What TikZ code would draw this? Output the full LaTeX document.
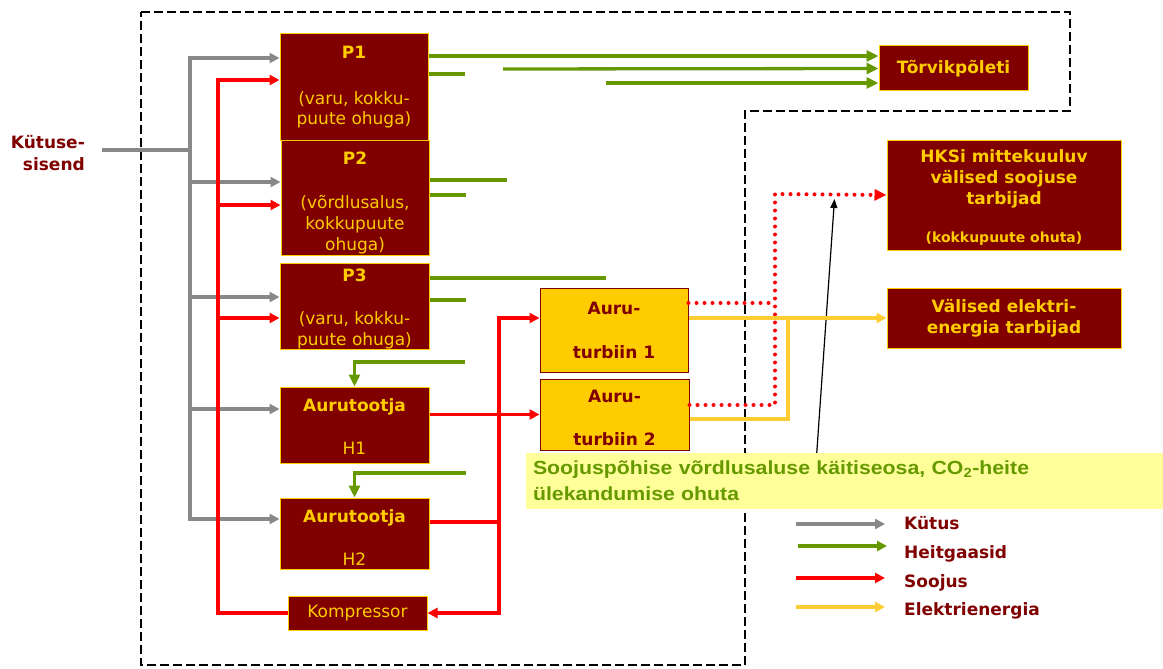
\documentclass[tikz,border=0pt]{standalone}
\usepackage{fontspec}
\setmainfont{DejaVu Sans}
\newfontfamily\notefont{Liberation Sans}[FakeStretch=1.12]
\usetikzlibrary{arrows.meta}

\definecolor{boxred}{RGB}{128,0,0}
\definecolor{boxgold}{RGB}{255,204,0}
\definecolor{fuelgray}{RGB}{136,136,136}
\definecolor{gasgreen}{RGB}{102,153,0}
\definecolor{heatred}{RGB}{255,0,0}
\definecolor{powergold}{RGB}{255,204,51}
\definecolor{notefill}{RGB}{255,255,153}

\begin{document}
\begin{tikzpicture}[x=1pt,y=-1pt,
  plant/.style={draw=boxgold, line width=1pt, fill=boxred, text=boxgold,
    inner sep=0pt, align=center, font=\fontsize{17}{20}\selectfont},
  turbine/.style={draw=boxred, line width=1pt, fill=boxgold, text=boxred,
    inner sep=0pt, align=center, font=\bfseries\fontsize{17}{20}\selectfont},
  consumer/.style={plant, font=\bfseries\fontsize{17}{21}\selectfont},
  legendtext/.style={text=boxred, inner sep=0pt, anchor=base west,
    font=\bfseries\fontsize{17}{20}\selectfont},
  fuel/.style={draw=fuelgray, line width=3.3pt},
  gas/.style={draw=gasgreen, line width=3.3pt},
  heat/.style={draw=heatred, line width=3.3pt},
  heatdots/.style={draw=heatred, line width=4pt, line cap=round,
    dash pattern=on 0pt off 8pt},
  power/.style={draw=powergold, line width=3.3pt},
  arr/.style={-{Triangle[length=10pt,width=10pt]}},
  bigarr/.style={-{Triangle[length=12pt,width=11pt]}},
  boundary/.style={draw=black, line width=2.8pt, dash pattern=on 9pt off 4pt},
]
\useasboundingbox (0,0) rectangle (1163,669);

% system boundary
\draw[boundary] (141,12) -- (1070,12) -- (1070,111) -- (745,111)
  -- (745,665) -- (141,665) -- cycle;

% pointer from the note to the heat consumers' line
\coordinate (ptrfoot) at (816.6,455);
\coordinate (ptrhead) at (834.5,199);
\draw[line width=1.2pt, -{Triangle[length=9pt,width=7pt]}] (ptrfoot) -- (ptrhead);

% plants and steam generators
\node[plant, minimum width=148pt, minimum height=106pt] (p1) at (354,87)
  {\textbf{P1}\\[26pt](varu, kokku-\\puute ohuga)};
\node[plant, font=\fontsize{17}{21}\selectfont, minimum width=148pt, minimum height=115pt] (p2) at (355,197.5)
  {\rule{0pt}{24.5pt}\textbf{P2}\\[23pt](võrdlusalus,\\kokkupuute\\ohuga)};
\node[plant, font=\fontsize{17}{21}\selectfont, minimum width=149pt, minimum height=85pt] (p3) at (354.5,306.5)
  {\rule{0pt}{18.5pt}\textbf{P3}\\[22pt](varu, kokku-\\puute ohuga)};
\node[plant, minimum width=149pt, minimum height=76pt] (h1) at (354.5,425)
  {\rule{0pt}{15pt}\textbf{Aurutootja}\\[23pt]H1};
\node[plant, minimum width=149pt, minimum height=71pt] (h2) at (354.5,533.5)
  {\rule{0pt}{20pt}\textbf{Aurutootja}\\[23pt]H2};
\node[plant, minimum width=139pt, minimum height=34pt] (komp) at (357.5,613) {Kompressor};

% turbines
\node[turbine, minimum width=148pt, minimum height=84pt] (t1) at (614,330)
  {Auru-\\[24pt]turbiin 1};
\node[turbine, minimum width=149pt, minimum height=71pt] (t2) at (614.5,414.5)
  {\rule{0pt}{20pt}Auru-\\[23pt]turbiin 2};

% consumers
\node[plant, font=\bfseries\fontsize{17}{20}\selectfont, minimum width=149pt, minimum height=45pt]
  (torv) at (953.5,68.5) {Tõrvikpõleti};
\node[consumer, minimum width=234pt, minimum height=110pt] (hks) at (1004,195)
  {\rule{0pt}{18.7pt}HKSi mittekuuluv\\välised soojuse\\tarbijad\\[17pt]{\fontsize{14}{16}\selectfont (kokkupuute ohuta)}};
\node[consumer, minimum width=234pt, minimum height=60pt] (val) at (1004,318)
  {Välised elektri-\\energia tarbijad};

% fuel input
\node[text=boxred, inner sep=0pt, align=right, anchor=east,
  font=\bfseries\fontsize{17}{22}\selectfont] (kin) at (85,153.5) {Kütuse-\\sisend};

% fuel lines
\coordinate (kst) at (102,150);
\coordinate (fbus) at (190,150);
\draw[fuel] (kst) -- (fbus);
\draw[fuel,arr] (190,519) -- (190,58) -- (p1.west |- 0,58);
\draw[fuel,arr] (190,58) -- (190,519) -- (h2.west |- 0,519);
\foreach \n/\y in {p2/182,p3/297,h1/409}
  \draw[fuel,arr] (190,\y) -- (\n.west |- 0,\y);

% heat lines
\draw[heat,arr] (komp.west) -- (218,613) -- (218,80) -- (p1.west |- 0,80);
\foreach \n/\y in {p2/205,p3/318}
  \draw[heat,arr] (218,\y) -- (\n.west |- 0,\y);
\draw[heat,arr] (h1.east |- t2.west) -- (t2.west);
\draw[heat] (h2.east |- 0,522) -- (499,522);
\draw[heat,arr] (499,613) -- (499,318) -- (t1.west |- 0,318);
\draw[heat,arr] (499,318) -- (499,613) -- (komp.east);

% heat to outside consumers
\draw[heatdots] (t1.east |- 0,303) -- (775,303);
\draw[heatdots,bigarr] (t2.east |- 0,405) -- (775,405) -- (775,194) -- (hks.west);

% electricity
\draw[power,arr] (t1.east |- val.west) -- (val.west);
\draw[power] (t2.east |- 0,419) -- (788,419) -- (788,318);

% flue gases
\draw[gas,bigarr] (p1.east |- 0,56) -- (torv.west |- 0,56);
\draw[gas] (p1.east |- 0,74) -- (465,74);
\draw[gas,bigarr] (503,69) -- (torv.west);
\draw[gas,bigarr] (606,83) -- (torv.west |- 0,83);
\draw[gas] (p2.east |- 0,180) -- (507,180);
\draw[gas] (p2.east |- 0,195) -- (466,195);
\draw[gas] (p3.east |- 0,278) -- (606,278);
\draw[gas] (p3.east |- 0,300) -- (466,300);
\draw[gas,bigarr] (465,362) -- (h1.north |- 0,362) -- (h1.north);
\draw[gas,bigarr] (466,473) -- (h2.north |- 0,473) -- (h2.north);

% note
\node[fill=notefill, minimum width=637pt, minimum height=56pt, inner xsep=7pt, inner ysep=0pt,
  text width=623pt, align=left, text=gasgreen,
  font=\notefont\bfseries\fontsize{19}{26}\selectfont] (note) at (844.5,480.5)
  {Soojuspõhise võrdlusaluse käitiseosa, CO\textsubscript{2}-heite\\ülekandumise ohuta};

% legend
\node[legendtext] (lgfuel) at (904,529) {Kütus};
\node[legendtext] (lggas) at (904,558) {Heitgaasid};
\node[legendtext] (lgheat) at (904,587) {Soojus};
\node[legendtext] (lgpower) at (904,615) {Elektrienergia};
\draw[fuel,arr] (796,524) -- (885,524);
\draw[gas,arr] (798,546) -- (887,546);
\draw[heat,arr] (796,578) -- (885,578);
\draw[power,arr] (796,607) -- (885,607);
\end{tikzpicture}
\end{document}
